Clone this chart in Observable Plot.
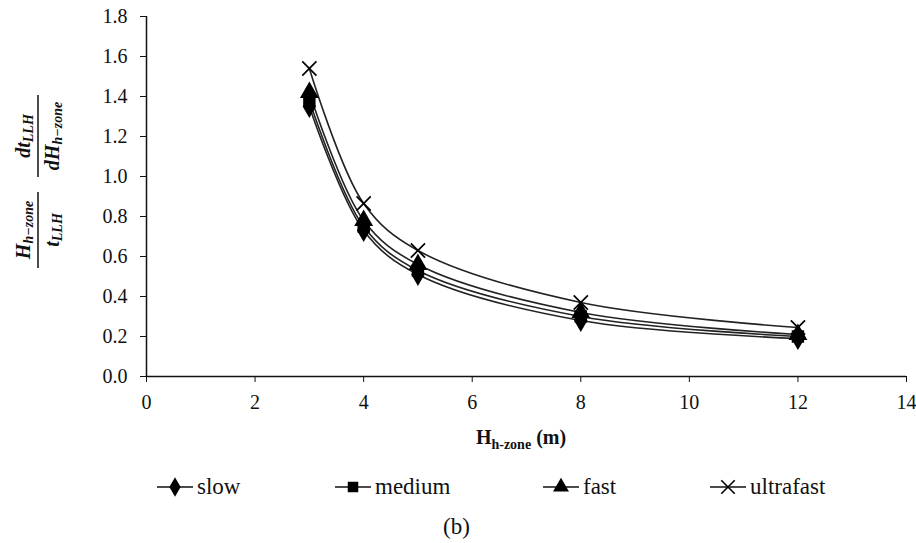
<!DOCTYPE html>
<html>
<head>
<meta charset="utf-8">
<script src="https://cdn.jsdelivr.net/npm/d3@7"></script>
<script src="https://cdn.jsdelivr.net/npm/@observablehq/plot@0.6"></script>
<style>
  body { margin: 0; background: #fff; font-family: "Liberation Serif", "Times New Roman", serif; }
  #wrap { position: relative; width: 916px; height: 543px; }
  #legend { position: absolute; left: 0; top: 475px; width: 916px; height: 24px; }
  .item { position: absolute; top: 0; height: 24px; display: flex; align-items: center; color: #111; }
  .item span { font-family: "Liberation Serif", "Times New Roman", serif; font-size: 23px; line-height: 24px; }
  .item svg { margin-right: 4px; }
  #cap { position: absolute; left: 443px; top: 513px; font-family: "Liberation Serif", "Times New Roman", serif; font-size: 23px; line-height: 28px; color: #111; }
</style>
</head>
<body>
<div id="wrap">
  <div id="chart"></div>
  <div id="legend"></div>
  <div id="cap">(b)</div>
</div>
<script>
const xs = [3, 4, 5, 8, 12];
const seriesNames = ["slow", "medium", "fast", "ultrafast"];
const slow = [1.35, 0.73, 0.51, 0.28, 0.19];
const medium = [1.38, 0.75, 0.53, 0.30, 0.20];
const fast = [1.42, 0.78, 0.56, 0.32, 0.21];
const ultrafast = [1.54, 0.865, 0.63, 0.37, 0.245];
const symbols = ["diamond", "square", "triangle", "times"];
const xTicks = [0, 2, 4, 6, 8, 10, 12, 14];
const yTicks = [0, 0.2, 0.4, 0.6, 0.8, 1.0, 1.2, 1.4, 1.6, 1.8];

const valuesBySeries = [slow, medium, fast, ultrafast];
const data = [];
seriesNames.forEach((s, i) => xs.forEach((x, j) => data.push({series: s, x, y: valuesBySeries[i][j], sym: symbols[i]})));

const SERIF = "'Liberation Serif', 'Times New Roman', serif";
const chart = Plot.plot({
  width: 916,
  height: 455,
  marginLeft: 146,
  marginRight: 10,
  marginTop: 16,
  marginBottom: 79,
  style: `font-family: ${SERIF}; font-size: 20px; color: #111; background: white;`,
  x: {domain: [0, 14], ticks: xTicks, tickSize: 6, tickPadding: 12, label: null},
  y: {domain: [0, 1.8], ticks: yTicks, tickSize: 6, tickPadding: 13, tickFormat: d => d.toFixed(1), label: null},
  marks: [
    Plot.ruleY([0], {stroke: "#111", strokeWidth: 1.5}),
    Plot.ruleX([0], {stroke: "#111", strokeWidth: 1.5}),
    Plot.line(data, {x: "x", y: "y", z: "series", curve: "catmull-rom", stroke: "#222", strokeWidth: 1.6}),
    Plot.dot(data.filter(d => d.series !== "ultrafast"), {x: "x", y: "y", symbol: "sym", fill: "#000", stroke: "none", r: 7}),
    Plot.dot(data.filter(d => d.series === "ultrafast"), {x: "x", y: "y", symbol: "times", stroke: "#000", strokeWidth: 1.7, fill: "none", r: 6.5})
  ]
});
document.getElementById("chart").appendChild(chart);

const svg = d3.select(chart);
// enforce serif, larger tick labels on all axis texts
svg.selectAll("text")
  .attr("font-size", 20).attr("font-family", SERIF)
  .style("font-family", SERIF).style("font-size", "20px").attr("fill", "#111");
svg.selectAll("g").filter(function() { return this.hasAttribute("font-size"); }).attr("font-size", 20);

const xl = svg.append("text").attr("x", 521).attr("y", 444).attr("text-anchor", "middle")
  .style("font-family", SERIF).attr("font-weight", "bold").attr("font-size", 20).attr("fill", "#111");
xl.append("tspan").text("H");
xl.append("tspan").attr("font-size", 14).attr("dy", 5).text("h-zone");
xl.append("tspan").attr("dy", -5).text(" (m)");

// rotated fraction y-axis label
const g = svg.append("g").style("font-family", SERIF).attr("font-weight", "bold")
  .attr("font-style", "italic").attr("fill", "#111");
function frac(cx, cy, num, numSub, den, denSub, barLen) {
  const gg = g.append("g").attr("transform", `translate(${cx},${cy}) rotate(-90)`);
  const n = gg.append("text").attr("x", 0).attr("y", -8).attr("text-anchor", "middle").attr("font-size", 20);
  n.append("tspan").text(num);
  n.append("tspan").attr("font-size", 14).attr("dy", 3).text(numSub);
  const d = gg.append("text").attr("x", 0).attr("y", 21).attr("text-anchor", "middle").attr("font-size", 20);
  d.append("tspan").text(den);
  d.append("tspan").attr("font-size", 14).attr("dy", 3).text(denSub);
  gg.append("line").attr("x1", -barLen / 2).attr("x2", barLen / 2).attr("y1", 0).attr("y2", 0)
    .attr("stroke", "#111").attr("stroke-width", 1.5);
}
frac(38, 230, "H", "h\u2212zone", "t", "LLH", 76);
frac(38, 136, "dt", "LLH", "dH", "h\u2212zone", 82);

// legend
const legend = document.getElementById("legend");
const items = [
  {name: "slow", left: 157, sym: d3.symbolDiamond},
  {name: "medium", left: 335, sym: d3.symbolSquare},
  {name: "fast", left: 543, sym: d3.symbolTriangle},
  {name: "ultrafast", left: 710, sym: d3.symbolTimes}
];
items.forEach(it => {
  const div = document.createElement("div");
  div.className = "item";
  div.style.left = it.left + "px";
  const s = d3.create("svg").attr("width", 36).attr("height", 24);
  s.append("line").attr("x1", 0).attr("x2", 36).attr("y1", 12).attr("y2", 12).attr("stroke", "#111").attr("stroke-width", 1.6);
  const isX = it.sym === d3.symbolTimes;
  s.append("path").attr("transform", "translate(18,12)").attr("d", d3.symbol(it.sym, isX ? 120 : 110)())
    .attr("fill", isX ? "none" : "#000").attr("stroke", isX ? "#000" : "none").attr("stroke-width", 1.6);
  div.appendChild(s.node());
  const t = document.createElement("span");
  t.textContent = it.name;
  div.appendChild(t);
  legend.appendChild(div);
});
</script>
</body>
</html>
